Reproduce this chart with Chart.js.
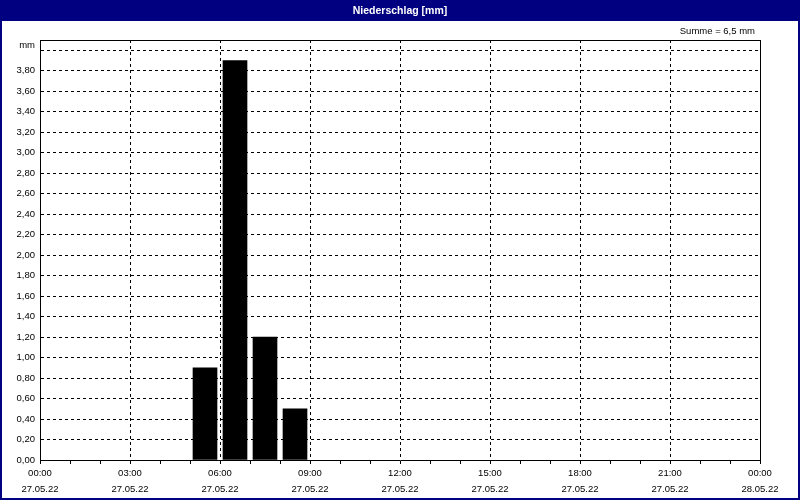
<!DOCTYPE html>
<html>
<head>
<meta charset="utf-8">
<script src="https://cdn.jsdelivr.net/npm/chart.js@4.4.0/dist/chart.umd.min.js"></script>
<style>
  html, body { margin: 0; padding: 0; background: #fff; }
  canvas { display: block; }
</style>
</head>
<body>
<canvas id="chart" width="800" height="500"></canvas>
<script>
const TITLE = "Niederschlag [mm]";
const SUM_TEXT = "Summe = 6,5 mm";
const UNIT = "mm";

// Stundenwerte: Beginn der Stunde und Niederschlag in mm
const barHours = [5, 6, 7, 8];
const rainValues = [0.9, 3.9, 1.2, 0.5];

const yTicks = [0, 0.2, 0.4, 0.6, 0.8, 1.0, 1.2, 1.4, 1.6, 1.8, 2.0, 2.2, 2.4, 2.6, 2.8, 3.0, 3.2, 3.4, 3.6, 3.8, 4.0];
const yTickLabels = ["0,00", "0,20", "0,40", "0,60", "0,80", "1,00", "1,20", "1,40", "1,60", "1,80", "2,00",
  "2,20", "2,40", "2,60", "2,80", "3,00", "3,20", "3,40", "3,60", "3,80", ""];

const xTickHours = [0, 1, 2, 3, 4, 5, 6, 7, 8, 9, 10, 11, 12, 13, 14, 15, 16, 17, 18, 19, 20, 21, 22, 23, 24];
const xTimeLabels = ["00:00", "03:00", "06:00", "09:00", "12:00", "15:00", "18:00", "21:00", "00:00"];
const xDateLabels = ["27.05.22", "27.05.22", "27.05.22", "27.05.22", "27.05.22", "27.05.22", "27.05.22", "27.05.22", "28.05.22"];

const NAVY = "#000080";
const FONT = { family: "'Liberation Sans', Arial, sans-serif", size: 9.5 };

const framePlugin = {
  id: "frame",
  beforeDraw(chart) {
    const ctx = chart.ctx;
    ctx.save();
    ctx.fillStyle = "#ffffff";
    ctx.fillRect(0, 0, chart.width, chart.height);
    ctx.fillStyle = NAVY;
    ctx.fillRect(0, 0, chart.width, 21);
    ctx.fillStyle = "#ffffff";
    ctx.font = "bold 10.5px 'Liberation Sans', Arial, sans-serif";
    ctx.textAlign = "center";
    ctx.textBaseline = "middle";
    ctx.fillText(TITLE, chart.width / 2, 11);
    ctx.restore();
  },
  afterDraw(chart) {
    const ctx = chart.ctx;
    const a = chart.chartArea;
    ctx.save();
    ctx.strokeStyle = "#000";
    ctx.lineWidth = 1;
    ctx.beginPath();
    ctx.moveTo(a.left, a.top + 0.5);
    ctx.lineTo(a.right + 1, a.top + 0.5);
    ctx.moveTo(a.right + 0.5, a.top);
    ctx.lineTo(a.right + 0.5, a.bottom + 1);
    ctx.stroke();

    ctx.fillStyle = "#000";
    ctx.font = "9.5px 'Liberation Sans', Arial, sans-serif";
    ctx.textBaseline = "middle";
    ctx.textAlign = "right";
    ctx.fillText(SUM_TEXT, 755, 31);
    ctx.fillText(UNIT, 35, 45);

    ctx.strokeStyle = NAVY;
    ctx.lineWidth = 2;
    ctx.strokeRect(1, 1, chart.width - 2, chart.height - 2);
    ctx.restore();
  },
};

new Chart(document.getElementById("chart"), {
  type: "bar",
  data: {
    datasets: [
      {
        label: TITLE,
        data: barHours.map((h, i) => ({ x: h + 0.5, y: rainValues[i] })),
        backgroundColor: "#000",
        borderWidth: 0,
        barThickness: 24,
      },
    ],
  },
  options: {
    responsive: false,
    animation: false,
    layout: { padding: { top: 40, right: 40, bottom: 0, left: 0 } },
    plugins: {
      legend: { display: false },
      tooltip: { enabled: false },
    },
    scales: {
      x: {
        type: "linear",
        min: 0,
        max: 24,
        offset: false,
        afterBuildTicks: (s) => { s.ticks = xTickHours.map((v) => ({ value: v })); },
        afterFit: (s) => { s.height = 40; },
        ticks: {
          autoSkip: false,
          maxRotation: 0,
          color: "#000",
          font: { ...FONT, lineHeight: 1.65 },
          padding: 2,
          callback: (v, i) => (i % 3 === 0 ? [xTimeLabels[i / 3], xDateLabels[i / 3]] : ""),
        },
        grid: {
          offset: false,
          color: (c) => (c.tick && c.tick.value % 3 === 0 ? "#000" : "rgba(0,0,0,0)"),
          tickColor: "#000",
          tickLength: 4,
          tickBorderDash: [],
          lineWidth: 1,
        },
        border: { color: "#000", width: 1, dash: [3, 3] },
      },
      y: {
        min: 0,
        max: 4.1,
        afterBuildTicks: (s) => { s.ticks = yTicks.map((v) => ({ value: v })); },
        afterFit: (s) => { s.width = 40; },
        ticks: {
          autoSkip: false,
          color: "#000",
          font: FONT,
          padding: 5,
          callback: (v, i) => yTickLabels[i],
        },
        grid: {
          color: "#000",
          lineWidth: 1,
          drawTicks: false,
        },
        border: { color: "#000", width: 1, dash: [3, 3] },
      },
    },
  },
  plugins: [framePlugin],
});
</script>
</body>
</html>
